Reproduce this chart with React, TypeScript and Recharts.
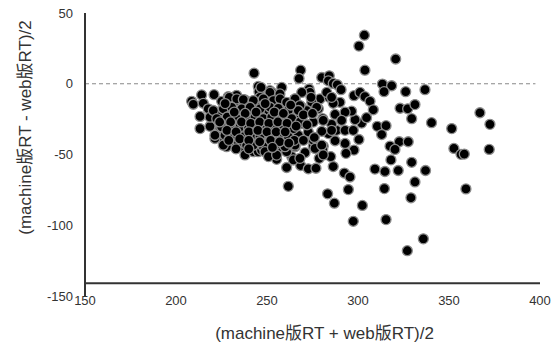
import React from 'react';
import { ScatterChart, Scatter, XAxis, YAxis, ReferenceLine, Label } from 'recharts';

// Tick values
const xTicks = [150, 200, 250, 300, 350, 400];
const yTicks = [-150, -100, -50, 0, 50];
const xAxisCrossAt = -141;

// Points above / near the zero line: [mean RT, diff/2]
const upperPoints: [number, number][] = [
  [303.5, 34.3], [300.5, 26.6], [320.7, 17.5], [303.8, 9.6], [268.5, 9.6], [267.6, 3.7], [242.9, 7.5],
  [280.1, 4.4], [284.2, 5.6], [283.7, 2.1], [286.4, 0.2], [288.6, -0.7], [290.7, -4.2], [313.4, -0.2],
  [318.5, -1.4], [314.3, -5.6], [326.2, -5.6], [336.8, -4.2], [258.1, -2.6], [273.1, -3.7], [273.6, -6.1],
  [245.2, -1.9], [245.6, -5.6], [251.6, -4.9], [252.6, -6.1], [269.1, -6.1], [246.7, -2.6],
];

// Right-hand spread of points
const rightSpread: [number, number][] = [
  [279.1, -10.7], [284.2, -9.6], [290.1, -13.1], [297.8, -8.4], [301.1, -6.1], [303.8, -9.1], [306.6, -12.4],
  [308.4, -18.4], [323.1, -17.3], [327.3, -17.7], [331.3, -14.7], [329.5, -24.7], [340.4, -27.5], [367.0, -20.5],
  [372.5, -28.7], [351.5, -31.7], [352.7, -45.7], [356.6, -49.9], [358.4, -49.7], [372.1, -46.4], [310.6, -30.1],
  [315.4, -29.6], [313.0, -35.9], [322.7, -41.0], [327.6, -41.0], [317.6, -44.1], [320.3, -46.4], [318.1, -53.8],
  [329.5, -55.5], [309.3, -60.3], [314.8, -62.0], [322.1, -61.3], [337.1, -61.3], [331.3, -69.4], [292.5, -63.1],
  [295.6, -65.9], [286.4, -58.5], [285.0, -51.5], [278.7, -52.7], [270.9, -48.7], [264.5, -53.8], [263.6, -51.5],
  [297.8, -46.9], [293.4, -49.2], [292.9, -42.2], [300.5, -39.4], [287.4, -40.3], [280.9, -44.1], [280.6, -46.4],
  [275.4, -44.1], [275.4, -39.9], [283.7, -35.2], [280.1, -33.6], [288.2, -32.9], [292.9, -32.9], [297.4, -32.9],
  [302.0, -27.8], [298.4, -25.4], [304.7, -24.0], [296.5, -19.4], [292.9, -20.1], [287.4, -21.7], [291.0, -25.9],
  [285.5, -28.7], [280.6, -24.7], [278.2, -17.7], [286.4, -13.8], [274.6, -13.1], [274.2, -9.6], [269.0, -16.6],
  [271.8, -18.9], [277.3, -16.6], [282.8, -6.1], [285.5, -9.6], [266.3, -23.6], [269.0, -28.2], [275.4, -27.1],
  [280.9, -25.9], [285.5, -32.9], [272.7, -34.1], [276.4, -45.7], [280.1, -43.4], [280.9, -50.3], [268.5, -57.8],
  [272.7, -60.1], [276.9, -59.7],
];

// Far-low outliers
const lowerOutliers: [number, number][] = [
  [359.3, -74.3], [314.5, -74.1], [329.1, -80.6], [294.7, -74.8], [283.3, -77.8], [287.0, -84.4], [302.4, -86.0],
  [297.4, -97.2], [315.4, -96.0], [335.9, -109.6], [327.1, -118.0], [261.7, -72.5], [260.8, -59.2],
];

// Left edge of the main cluster
const leftCluster: [number, number][] = [
  [208.6, -12.4], [209.5, -14.5], [214.1, -7.9], [215.0, -13.8], [220.9, -7.7], [225.1, -12.4], [228.7, -9.1],
  [233.3, -8.2], [232.4, -13.8], [237.9, -11.4], [242.5, -12.4], [213.2, -23.1], [218.7, -18.4], [223.2, -20.1],
  [213.2, -31.7], [218.7, -30.1], [223.2, -25.9], [227.8, -24.7], [230.6, -20.1], [236.0, -17.7], [240.7, -18.9],
  [244.3, -16.6], [233.3, -28.2], [237.9, -30.6], [225.1, -34.1], [228.7, -39.9], [225.1, -38.7], [237.0, -35.2],
  [241.5, -32.9], [244.3, -41.0], [237.0, -45.7], [237.9, -50.3], [242.5, -48.0], [246.2, -46.9], [217.7, -17.7],
  [218.7, -23.6], [224.2, -31.7], [223.2, -35.2], [221.4, -38.7], [229.7, -41.0], [227.8, -44.5], [245.2, -48.0],
  [255.3, -53.4],
];

// Dense core of the cluster
const coreCluster: [number, number][] = [
  [251.6, -6.1], [246.2, -9.6], [257.1, -7.2], [260.8, -14.2], [265.4, -10.7], [250.7, -18.9], [247.0, -23.6],
  [254.4, -25.9], [259.9, -22.4], [246.2, -34.1], [251.6, -35.2], [257.1, -39.9], [262.6, -37.6], [267.2, -36.4],
  [247.0, -46.9], [251.6, -50.3], [256.2, -46.9], [260.8, -48.0], [265.4, -44.5],
  [229.3, -9.6], [233.4, -10.7], [237.0, -11.2], [242.5, -11.9], [248.0, -10.7], [253.5, -11.9], [257.2, -10.7],
  [260.8, -13.1], [265.4, -10.7], [268.1, -15.4], [220.5, -18.9], [226.0, -17.7], [230.6, -16.6], [236.1, -17.7],
  [240.7, -16.6], [246.2, -17.7], [251.7, -16.6], [256.2, -17.3], [261.7, -18.9], [267.2, -18.9], [222.4, -24.7],
  [228.1, -23.5], [233.4, -24.7], [238.8, -24.7], [243.4, -23.5], [248.0, -24.7], [252.6, -23.5], [258.1, -24.7],
  [263.6, -24.7], [268.1, -27.0], [225.1, -30.5], [229.7, -29.4], [235.2, -30.5], [239.8, -31.7], [244.3, -30.5],
  [249.8, -31.7], [254.4, -30.5], [259.0, -31.7], [264.5, -31.7], [221.4, -36.4], [226.9, -36.4], [231.5, -36.4],
  [237.0, -37.5], [241.6, -36.4], [246.2, -37.5], [251.7, -37.5], [257.2, -36.4], [261.7, -37.5], [226.0, -43.4],
  [234.3, -42.2], [238.8, -43.4], [242.5, -43.4], [248.0, -44.5], [254.4, -43.4], [259.9, -44.5], [265.4, -43.4],
  [248.9, -48.0], [250.8, -51.5], [255.3, -50.4], [264.5, -53.8], [268.1, -52.7],
  [227.0, -14.0], [232.0, -20.0], [238.0, -21.0], [244.0, -20.0], [249.0, -14.0], [254.0, -20.0], [259.0, -21.0],
  [263.0, -15.0], [270.0, -22.0], [275.0, -21.0], [224.0, -27.0], [230.0, -27.0], [236.0, -27.0], [241.0, -28.0],
  [246.0, -27.0], [251.0, -28.0], [256.0, -27.0], [261.0, -28.0], [266.0, -30.0], [272.0, -29.0], [228.0, -33.0],
  [233.0, -34.0], [240.0, -34.0], [245.0, -33.0], [250.0, -34.0], [255.0, -34.0], [260.0, -34.0], [265.0, -40.0],
  [270.0, -40.0], [276.0, -38.0], [229.0, -40.0], [235.0, -39.0], [240.0, -40.0], [246.0, -41.0], [252.0, -40.0],
  [257.0, -41.0], [262.0, -42.0], [233.0, -46.0], [240.0, -46.0], [253.0, -45.0],
];

const data = [...upperPoints, ...rightSpread, ...lowerOutliers, ...leftCluster, ...coreCluster].map(
  ([mean, diff]) => ({ mean, diff })
);

const FONT = '"Liberation Sans", Arial, "Noto Sans CJK SC", sans-serif';
const TEXT = '#333333';

const Dot = (props: any) => (
  <circle cx={props.cx} cy={props.cy} r={5} fill="#000" stroke="#8c8c8c" strokeWidth={1.3} />
);

const XTitle = (props: any) => {
  const vb = props.viewBox || { x: 85, y: 296, width: 455, height: 49 };
  const cx = vb.x + vb.width / 2 + 12;
  const cy = vb.y + 37;
  return (
    <text x={cx} y={cy} textAnchor="middle" dominantBaseline="central" fontSize={17} fill={TEXT} fontFamily={FONT}>
      (machine版RT + web版RT)/2
    </text>
  );
};

const YTitle = (props: any) => {
  const vb = props.viewBox || { x: 0, y: 13, width: 85, height: 283 };
  const cx = vb.x + 25;
  const cy = vb.y + vb.height / 2 - 27;
  return (
    <text
      x={cx}
      y={cy}
      transform={`rotate(-90 ${cx} ${cy})`}
      textAnchor="middle"
      dominantBaseline="central"
      fontSize={17}
      fill={TEXT}
      fontFamily={FONT}
    >
      (machine版RT - web版RT)/2
    </text>
  );
};

export default function App() {
  return (
    <div style={{ position: 'absolute', left: 0, top: 0, width: 554, height: 345, background: '#fff' }}>
      <ScatterChart width={554} height={345} margin={{ top: 13, right: 14, bottom: 0, left: 0 }}>
        <XAxis
          type="number"
          dataKey="mean"
          domain={[150, 400]}
          ticks={xTicks}
          interval={0}
          height={49}
          axisLine={false}
          tickLine={false}
          tickSize={0}
          tickMargin={0}
          tick={{ fontSize: 13, fill: TEXT, fontFamily: FONT }}
        >
          <Label content={<XTitle />} />
        </XAxis>
        <YAxis
          type="number"
          dataKey="diff"
          domain={[-150, 50]}
          ticks={yTicks}
          interval={0}
          width={85}
          axisLine={{ stroke: '#333', strokeWidth: 2 }}
          tickLine={false}
          tickSize={0}
          tickMargin={12}
          tick={{ fontSize: 13, fill: TEXT, fontFamily: FONT }}
        >
          <Label content={<YTitle />} />
        </YAxis>
        <ReferenceLine y={xAxisCrossAt} stroke="#333" strokeWidth={2} />
        <ReferenceLine
          segment={[{ x: 150, y: 0 }, { x: 397.5, y: 0 }]}
          stroke="#888"
          strokeDasharray="4 3"
          strokeWidth={1}
        />
        <Scatter data={data} shape={<Dot />} isAnimationActive={false} />
      </ScatterChart>
    </div>
  );
}
